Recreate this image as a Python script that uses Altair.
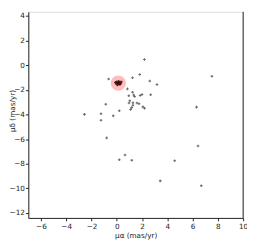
import altair as alt
import pandas as pd

# Field stars (proper motions, mas/yr)
field_pmra = [2.19, 7.53, 1.82, 1.25, -0.64, 2.61, 3.18, 0.84, 1.25, 0.95,
              1.34, 1.41, 1.85, 2.00, 2.68, 1.03, 0.97, 1.28, 1.28, 1.60,
              1.76, 1.18, 1.09, 2.07, 2.20, 6.31, -0.87, 0.20, -2.56, -1.25,
              -0.28, -1.25, -0.80, 0.65, 0.20, 1.19, 6.43, 4.58, 3.44, 6.69]
field_pmdec = [0.46, -0.89, -0.75, -1.02, -1.11, -1.28, -1.56, -1.92, -2.20, -2.47,
               -2.42, -2.54, -2.46, -2.38, -2.40, -2.88, -3.07, -3.05, -3.24, -3.07,
               -3.13, -3.44, -3.60, -3.38, -3.49, -3.40, -3.17, -3.70, -3.99, -3.94,
               -4.11, -4.46, -5.90, -7.29, -7.67, -7.71, -6.56, -7.76, -9.39, -9.78]

# Cluster members
member_pmra = [0.00, 0.10, 0.20, 0.25, -0.05, 0.15, 0.30, 0.05, 0.18, -0.10, 0.35, 0.10]
member_pmdec = [-1.35, -1.50, -1.40, -1.55, -1.50, -1.30, -1.45, -1.60, -1.52, -1.40, -1.35, -1.42]

# Cluster mean motion (highlight circle)
center_pmra = [0.12]
center_pmdec = [-1.45]

x_ticks = [-6, -4, -2, 0, 2, 4, 6, 8, 10]
y_ticks = [-12, -10, -8, -6, -4, -2, 0, 2, 4]
x_domain = [-7.0, 10.0]
y_domain = [-12.4, 4.34]

field = pd.DataFrame({"pmra": field_pmra, "pmdec": field_pmdec})
members = pd.DataFrame({"pmra": member_pmra, "pmdec": member_pmdec})
center = pd.DataFrame({"pmra": center_pmra, "pmdec": center_pmdec})

font = "DejaVu Sans"
xscale = alt.Scale(domain=x_domain, nice=False, zero=False)
yscale = alt.Scale(domain=y_domain, nice=False, zero=False)

xaxis = alt.Axis(values=x_ticks, title="μα (mas/yr)", grid=False,
                 labelFontSize=7.5, titleFontSize=7.5, labelFont=font, titleFont=font,
                 labelColor="#222", titleColor="#222", titleFontWeight="normal",
                 tickSize=3, tickColor="#222", domainColor="#222", labelPadding=2,
                 titlePadding=2, labelFlush=False, labelOverlap=False)
yaxis = alt.Axis(values=y_ticks, title="μδ (mas/yr)", grid=False,
                 labelFontSize=7.5, titleFontSize=7.5, labelFont=font, titleFont=font,
                 labelColor="#222", titleColor="#222", titleFontWeight="normal",
                 tickSize=3, tickColor="#222", domainColor="#222", labelPadding=1,
                 titleBaseline="middle", titleX=-16.5, titleY=102, labelFlush=False,
                 labelOverlap=False)

base_x = alt.X("pmra:Q", scale=xscale, axis=xaxis)
base_y = alt.Y("pmdec:Q", scale=yscale, axis=yaxis)

circle = alt.Chart(center).mark_circle(size=250, color="#ffbcbc", opacity=1).encode(
    x=base_x, y=base_y)

field_pts = alt.Chart(field).mark_point(shape="cross", size=7, filled=True,
                                        color="#555555", opacity=0.9).encode(
    x=base_x, y=base_y)

member_pts = alt.Chart(members).mark_point(shape="cross", size=8, filled=True,
                                           color="#3a0c0c", opacity=0.9).encode(
    x=base_x, y=base_y)

right_spine = alt.Chart(center).mark_rule(color="#222", strokeWidth=1).encode(
    x=alt.datum(10.0, scale=xscale, axis=xaxis))

chart = alt.layer(circle, field_pts, member_pts, right_spine).properties(
    width=222, height=213,
    autosize=alt.AutoSizeParams(type="none"),
    padding={"left": 21, "top": 0, "right": 4, "bottom": 23},
).configure_view(stroke=None).configure(background="white")

chart.save("out.html", embed_options={"renderer": "svg", "actions": False})
